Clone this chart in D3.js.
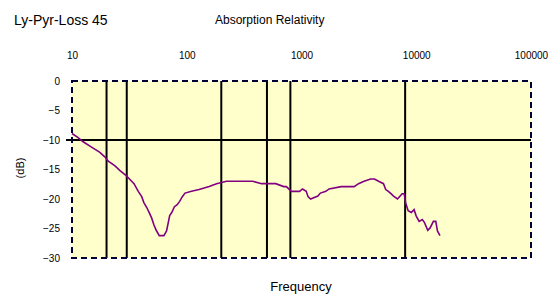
<!DOCTYPE html>
<html><head><meta charset="utf-8">
<script src="https://cdn.jsdelivr.net/npm/d3@7"></script>
<style>body{margin:0;background:#fff;}svg{display:block;font-family:"Liberation Sans",Arial,sans-serif;}</style>
</head><body>
<script>
const title = "Ly-Pyr-Loss 45";
const subtitle = "Absorption Relativity";
const xLabel = "Frequency";
const yLabel = "(dB)";
const xTicks = [10, 100, 1000, 10000, 100000];
const yTicks = [0, -5, -10, -15, -20, -25, -30];
const markerFreqs = [20, 30, 200, 500, 800, 8000];
const refLevel = [-10];
const freq = [10, 11.3, 12.5, 14.8, 17.5, 19.4, 20.7, 23.7, 26.2, 29.5, 32, 34.7, 37.8, 40.5, 42.3, 44.7, 47.1, 49.4, 51.8, 54.2, 57.6, 63.2, 66.7, 69.5, 71, 74, 78.1, 82.2, 86.7, 91.5, 96.6, 110, 128, 157, 182, 222, 375, 449, 596, 700, 738, 816, 962, 1020, 1100, 1140, 1200, 1390, 1460, 1630, 1740, 2220, 2880, 3140, 3510, 4000, 4320, 4700, 5180, 5420, 5710, 6020, 6340, 6860, 7540, 7840, 8100, 8500, 9060, 9570, 10000, 10600, 11300, 11800, 12600, 13200, 14100, 14800, 15300, 16100];
const level = [-8.9, -9.6, -10.3, -11.2, -12.1, -12.9, -13.6, -14.4, -15.2, -16.0, -16.7, -17.4, -18.7, -19.6, -20.6, -21.4, -22.3, -23.2, -24.4, -25.3, -26.2, -26.2, -25.4, -23.7, -22.8, -22.3, -21.3, -21.0, -20.4, -19.6, -19.0, -18.7, -18.4, -17.9, -17.4, -17.0, -17.0, -17.4, -17.4, -17.9, -17.9, -18.7, -18.7, -18.3, -18.7, -19.6, -20.0, -19.5, -19.0, -18.7, -18.3, -17.9, -17.9, -17.4, -17.0, -16.6, -16.6, -17.0, -17.4, -18.4, -18.7, -19.1, -19.5, -20.0, -19.1, -19.1, -20.7, -22.0, -22.3, -21.8, -22.9, -23.8, -23.5, -24.0, -25.3, -24.9, -23.8, -23.8, -25.4, -26.2];

const W = 558, H = 297;
const L = 72, R = 531, T = 81, B = 258;
const svg = d3.select("body").append("svg").attr("width", W).attr("height", H);

const x = d3.scaleLog().domain([10, 100000]).range([L, R]);
const y = d3.scaleLinear().domain([0, -30]).range([T, B]);

svg.append("rect").attr("x", L).attr("y", T).attr("width", R - L).attr("height", B - T).attr("fill", "#FFFFCC");

// marker lines
svg.append("g").selectAll("line").data(markerFreqs).join("line")
  .attr("x1", d => x(d)).attr("x2", d => x(d)).attr("y1", T).attr("y2", B)
  .attr("stroke", "#000").attr("stroke-width", 2);
svg.append("g").selectAll("line").data(refLevel).join("line")
  .attr("x1", L - 6).attr("x2", R).attr("y1", d => y(d)).attr("y2", d => y(d))
  .attr("stroke", "#000").attr("stroke-width", 2);

// border
svg.append("rect").attr("x", L).attr("y", T).attr("width", R - L).attr("height", B - T)
  .attr("fill", "none").attr("stroke", "#000033").attr("stroke-width", 2).attr("stroke-dasharray", "6,4");

// axes
const yAxis = d3.axisLeft(y).tickValues(yTicks).tickSize(0).tickPadding(12).tickFormat(d3.format("d"));
const gy = svg.append("g").attr("transform", `translate(${L},0)`).call(yAxis);
gy.select(".domain").remove();
gy.selectAll("text").attr("font-size", 10).attr("font-family", "Liberation Sans, Arial, sans-serif").attr("fill", "#000");

const xAxis = d3.axisTop(x).tickValues(xTicks).tickSize(0).tickPadding(22).tickFormat(d3.format("d"));
const gx = svg.append("g").attr("transform", `translate(0,${T})`).call(xAxis);
gx.select(".domain").remove();
gx.selectAll("text").attr("font-size", 10).attr("font-family", "Liberation Sans, Arial, sans-serif").attr("fill", "#000");

// data line
const pts = freq.map((f, i) => [f, level[i]]);
svg.append("path").datum(pts)
  .attr("d", d3.line().x(d => x(d[0])).y(d => y(d[1])))
  .attr("fill", "none").attr("stroke", "#800080").attr("stroke-width", 1.6);

// texts
svg.append("text").attr("x", 14).attr("y", 25).attr("font-size", 14).text(title);
svg.append("text").attr("x", 215).attr("y", 24).attr("font-size", 12).text(subtitle);
svg.append("text").attr("x", 301).attr("y", 291).attr("text-anchor", "middle").attr("font-size", 13).text(xLabel);
svg.append("text").attr("transform", "translate(24,168) rotate(-90)").attr("text-anchor", "middle").attr("font-size", 11).text(yLabel);
</script>
</body></html>
